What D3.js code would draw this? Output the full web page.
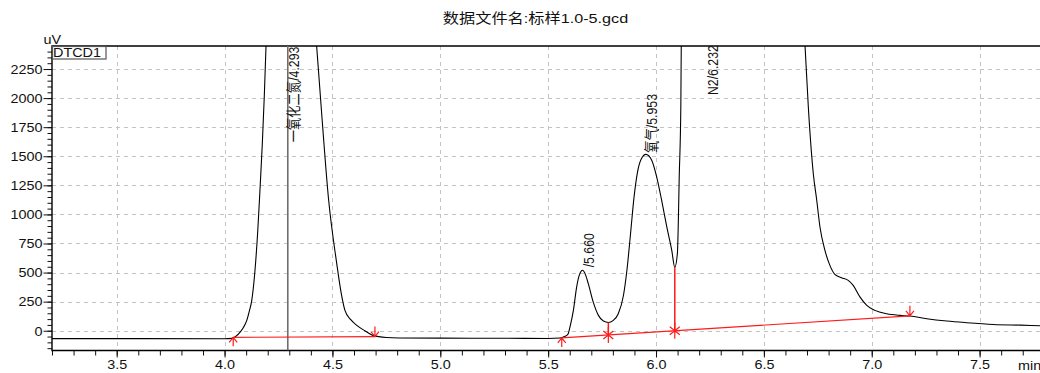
<!DOCTYPE html>
<html>
<head>
<meta charset="utf-8">
<script src="https://cdn.jsdelivr.net/npm/d3@7"></script>
<style>
  html, body { margin: 0; padding: 0; background: #fff; }
  svg { display: block; }
  text { font-family: "Liberation Sans", Arial, "Noto Sans CJK SC", sans-serif; fill: #111; }
</style>
</head>
<body>
<svg id="chart" width="1040" height="373"></svg>
<script>
// Chromatogram trace: retention time (min) and detector signal (uV)
const times = [
  3.200, 3.600, 4.000, 4.033, 4.050, 4.072, 4.088, 4.103, 4.115, 4.126, 4.141, 4.154, 4.164, 4.175, 4.184, 4.192,
  4.230, 4.293, 4.360, 4.427, 4.450, 4.481, 4.520, 4.540, 4.558, 4.585, 4.613, 4.650, 4.688, 4.750, 4.811,
  5.000, 5.300, 5.500, 5.555, 5.572, 5.586, 5.593, 5.601, 5.617, 5.632, 5.644, 5.660, 5.671, 5.686, 5.709,
  5.733, 5.756, 5.779, 5.802, 5.825, 5.849, 5.866, 5.882, 5.898, 5.914, 5.931, 5.953, 5.980, 6.003, 6.026,
  6.050, 6.073, 6.087, 6.099, 6.108, 6.115, 6.117, 6.160, 6.232, 6.400, 6.620, 6.691, 6.706, 6.729, 6.745,
  6.760, 6.783, 6.806, 6.829, 6.860, 6.891, 6.914, 6.946, 6.977, 7.015, 7.070, 7.131, 7.177, 7.255, 7.348,
  7.440, 7.564, 7.688, 7.780
];
const signalUV = [
  -68, -68, -69, -66, -52, -12, 30, 89, 170, 261, 520, 864, 1208, 1610, 2011, 2442,
  4200, 5200, 4200, 2442, 1870, 1150, 577, 330, 175, 95, 46, 0, -40, -58, -62,
  -64, -65, -67, -63, -52, -40, -26, 31, 175, 375, 476, 520, 491, 405, 246,
  132, 83, 71, 89, 146, 303, 535, 836, 1146, 1362, 1474, 1516, 1466, 1323, 1122,
  892, 691, 545, 663, 1352, 1925, 2442, 5200, 6200, 5600, 3600, 2442, 1925, 1352, 1122,
  892, 691, 562, 485, 456, 433, 390, 289, 218, 175, 146, 132, 126, 103, 83,
  69, 54, 48, 43
];

// Integrated peaks: name and retention time
const peakNames = ["一氧化二氮", "", "氧气", "N2"];
const peakTimes = [4.293, 5.660, 5.953, 6.232];
// Signal level where each peak label begins
const peakLabelUV = [1620, 545, 1530, 2026];

// Baseline segments drawn under the peaks
const baseFromT = [4.040, 5.563];
const baseFromUV = [-57, -62];
const baseToT = [4.697, 7.177];
const baseToUV = [-50, 128];
// Perpendicular drops between unresolved peaks
const dropTimes = [5.779, 6.087];
const dropTopUV = [71, 545];

// Axis ticks
const xMajor = [3.5, 4.0, 4.5, 5.0, 5.5, 6.0, 6.5, 7.0, 7.5];
const yMajor = [0, 250, 500, 750, 1000, 1250, 1500, 1750, 2000, 2250];

const svg = d3.select("#chart");
const L = 52, R = 1040, T = 46, B = 350.5;
const x = d3.scaleLinear().domain([3.2, 7.78]).range([L, R]);
const y = d3.scaleLinear().domain([-170, 2448]).range([B, T]);
const SX = 1.2; // horizontal stretch applied to all lettering

svg.append("defs").append("clipPath").attr("id", "plot")
  .append("rect").attr("x", L).attr("y", T).attr("width", R - L).attr("height", B - T);

// Dashed grid
const grid = svg.append("g").attr("stroke", "#c4c4c4").attr("stroke-width", 1)
  .attr("stroke-dasharray", "4,4").attr("shape-rendering", "crispEdges");
grid.selectAll("line.v").data(xMajor).join("line")
  .attr("x1", d => Math.round(x(d)) + 0.5).attr("x2", d => Math.round(x(d)) + 0.5)
  .attr("y1", T).attr("y2", B);
grid.selectAll("line.h").data(yMajor).join("line")
  .attr("x1", L).attr("x2", R)
  .attr("y1", d => Math.round(y(d)) + 0.5).attr("y2", d => Math.round(y(d)) + 0.5);

// Minor ticks every 0.1 min and every 50 uV
const xMinor = d3.range(32, 78).map(v => v / 10);
const yMinor = d3.range(-150, 2450, 50);

const xAxisMinor = d3.axisBottom(x).tickValues(xMinor).tickSize(5).tickSizeOuter(0).tickFormat("");
const xAxisMajor = d3.axisBottom(x).tickValues(xMajor).tickSize(7).tickSizeOuter(0).tickFormat(d3.format(".1f"));
const yAxisMinor = d3.axisLeft(y).tickValues(yMinor).tickSize(4.5).tickSizeOuter(0).tickFormat("");
const yAxisMajor = d3.axisLeft(y).tickValues(yMajor).tickSize(8.5).tickSizeOuter(0).tickFormat(d3.format("d"));

function styleAxis(g) {
  g.select(".domain").remove();
  g.selectAll(".tick line").attr("stroke", "#111").attr("stroke-width", 1);
}

svg.append("g").attr("transform", `translate(0,${B})`).call(xAxisMinor).call(styleAxis);
const gx = svg.append("g").attr("transform", `translate(0,${B})`).call(xAxisMajor).call(styleAxis);
gx.selectAll(".tick text")
  .attr("y", 19).attr("dy", 0)
  .attr("font-size", 12).attr("fill", "#111")
  .attr("transform", `scale(${SX},1)`);

svg.append("g").attr("transform", `translate(${L},0)`).call(yAxisMinor).call(styleAxis);
const gy = svg.append("g").attr("transform", `translate(${L},0)`).call(yAxisMajor).call(styleAxis);
gy.selectAll(".tick text")
  .attr("x", -9.5 / SX).attr("dy", "0.36em")
  .attr("font-size", 12).attr("fill", "#111")
  .attr("transform", `scale(${SX},1)`);

// Frame: left, bottom and top edges
svg.append("path")
  .attr("d", `M${R},${T}H${L}V${B}H${R}`)
  .attr("fill", "none").attr("stroke", "#000").attr("stroke-width", 1.4);

// Axis captions
svg.append("text").attr("transform", `translate(43.5,43.5) scale(${SX},1)`)
  .attr("font-size", 12).text("uV");
svg.append("text").attr("transform", `translate(1018,369.5) scale(${SX},1)`)
  .attr("font-size", 12).text("min");

// Title
svg.append("text").attr("transform", `translate(535.5,23) scale(${SX},1)`)
  .attr("text-anchor", "middle").attr("font-size", 13.5)
  .text("数据文件名:标样1.0-5.gcd");

// Detector channel tag
const tag = svg.append("g");
tag.append("rect").attr("x", 52.5).attr("y", 46.5).attr("width", 53.5).attr("height", 12.5)
  .attr("fill", "#fff").attr("stroke", "#555").attr("stroke-width", 1.2);
tag.append("text").attr("transform", `translate(53,57) scale(${SX},1)`)
  .attr("font-size", 12).text("DTCD1");

const plot = svg.append("g").attr("clip-path", "url(#plot)");

// Retention marker of the first peak
plot.append("line")
  .attr("x1", x(peakTimes[0])).attr("x2", x(peakTimes[0]))
  .attr("y1", T).attr("y2", B)
  .attr("stroke", "#6e6e6e").attr("stroke-width", 1.6);

// Signal trace
const trace = times.map((t, i) => [t, signalUV[i]]);
plot.append("path").datum(trace)
  .attr("fill", "none").attr("stroke", "#000").attr("stroke-width", 1.1)
  .attr("d", d3.line().x(d => x(d[0])).y(d => y(d[1])).curve(d3.curveMonotoneX));

// Baselines, drops and their markers
const red = "#ff1a1a";
const baseAt = (t) => {
  for (let i = 0; i < baseFromT.length; i++) {
    if (t >= baseFromT[i] && t <= baseToT[i]) {
      const f = (t - baseFromT[i]) / (baseToT[i] - baseFromT[i]);
      return baseFromUV[i] + f * (baseToUV[i] - baseFromUV[i]);
    }
  }
  return 0;
};
const marks = svg.append("g").attr("stroke", red).attr("fill", "none").attr("stroke-width", 1.2);
baseFromT.forEach((t0, i) => {
  marks.append("line")
    .attr("x1", x(t0)).attr("y1", y(baseFromUV[i]))
    .attr("x2", x(baseToT[i])).attr("y2", y(baseToUV[i]));
  // upward arrow at the start of the segment
  const sx = x(t0), sy = y(baseFromUV[i]);
  marks.append("path").attr("d", `M${sx},${sy + 9}V${sy}M${sx - 4},${sy + 5}L${sx},${sy}L${sx + 4},${sy + 5}`);
  // downward arrow at the end of the segment
  const ex = x(baseToT[i]), ey = y(baseToUV[i]);
  marks.append("path").attr("d", `M${ex},${ey - 10}V${ey}M${ex - 4},${ey - 5}L${ex},${ey}L${ex + 4},${ey - 5}`);
});
dropTimes.forEach((t, i) => {
  const px = x(t), by = y(baseAt(t));
  marks.append("line").attr("x1", px).attr("x2", px)
    .attr("y1", by).attr("y2", y(dropTopUV[i])).attr("stroke-width", 1.5);
  marks.append("path").attr("d",
    `M${px},${by - 8}V${by + 8}M${px - 5},${by - 4}L${px + 5},${by + 4}M${px - 5},${by + 4}L${px + 5},${by - 4}`);
});

// Peak labels, reading upward
const labels = svg.append("g");
peakTimes.forEach((t, i) => {
  const txt = (peakNames[i] ? peakNames[i] : "") + "/" + d3.format(".3f")(t);
  labels.append("text")
    .attr("transform", `translate(${x(t) + 11.5},${y(peakLabelUV[i])}) scale(${SX},1) rotate(-90)`)
    .attr("font-size", 12.3)
    .text(txt);
});
</script>
</body>
</html>
